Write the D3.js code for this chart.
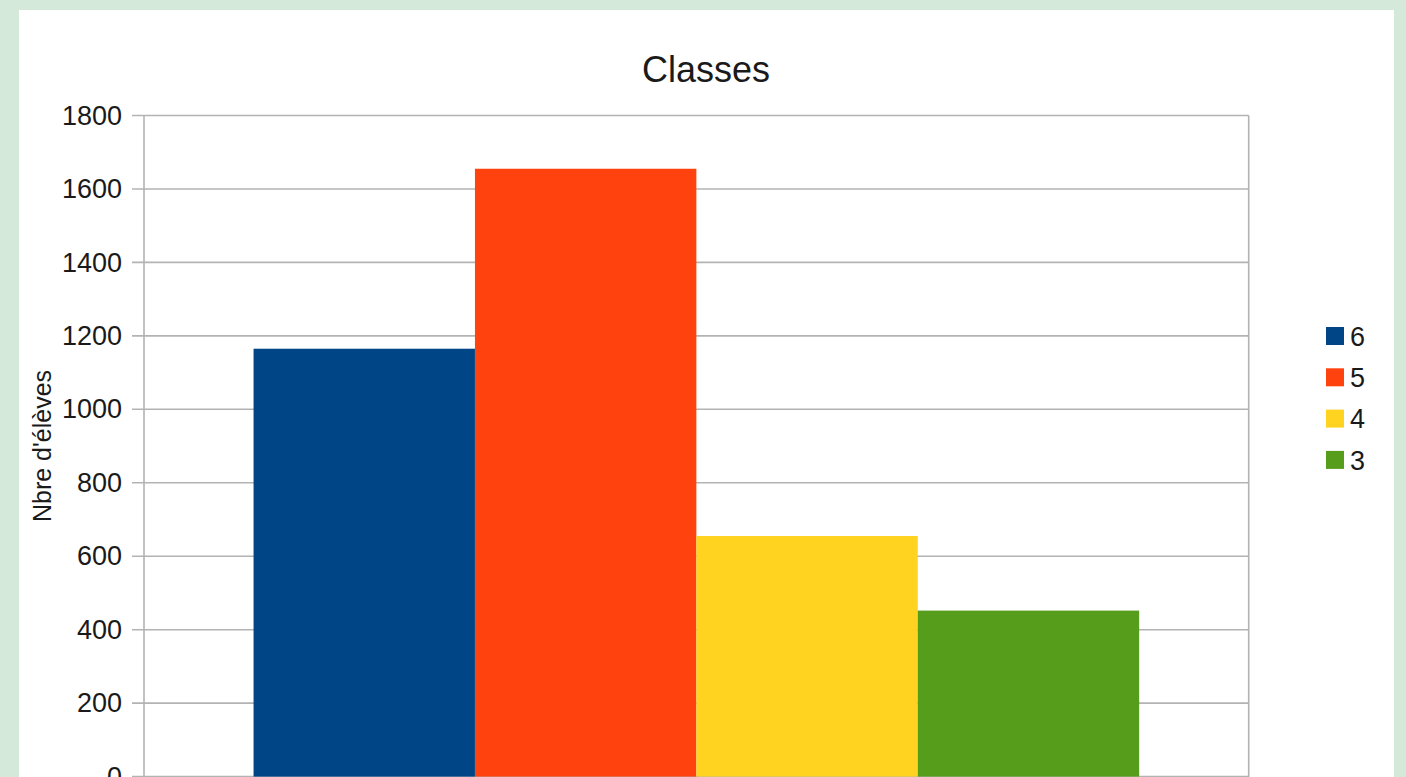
<!DOCTYPE html>
<html>
<head>
<meta charset="utf-8">
<script src="https://cdn.jsdelivr.net/npm/d3@7"></script>
<style>
  html, body { margin: 0; padding: 0; background: #d4e9d9; overflow: hidden; }
  text { font-family: "Liberation Sans", Arial, sans-serif; fill: #1a1a1a; }
</style>
</head>
<body>
<svg id="chart" width="1406" height="777"></svg>
<script>
const title = "Classes";
const yAxisLabel = "Nbre d'élèves";
const categories = [""];
const seriesNames = ["6", "5", "4", "3"];
const seriesValues = [1165, 1655, 655, 452];
const seriesColors = ["#004586", "#ff420e", "#ffd320", "#579d1c"];
const yTicks = [0, 200, 400, 600, 800, 1000, 1200, 1400, 1600, 1800];

const svg = d3.select("#chart");
svg.append("rect").attr("x", 0).attr("y", 0).attr("width", 1406).attr("height", 777).attr("fill", "#d4e9d9");
svg.append("rect").attr("x", 19).attr("y", 10).attr("width", 1375).attr("height", 800).attr("fill", "#ffffff");

const plot = { left: 144, right: 1248.7, top: 115.5, bottom: 776.6 };

const y = d3.scaleLinear().domain([0, 1800]).range([plot.bottom, plot.top]);
const x0 = d3.scaleBand().domain(categories).range([plot.left, plot.right]).paddingInner(0).paddingOuter(0.1237);
const x1 = d3.scaleBand().domain(seriesNames).range([0, x0.bandwidth()]).padding(0);

// gridlines
const grid = svg.append("g");
grid.selectAll("line").data(yTicks).join("line")
  .attr("x1", plot.left - 12).attr("x2", plot.right)
  .attr("y1", d => y(d)).attr("y2", d => y(d))
  .attr("stroke", "#b3b3b3").attr("stroke-width", 1.6);

// plot frame verticals
svg.append("line").attr("x1", plot.left).attr("x2", plot.left).attr("y1", plot.top).attr("y2", plot.bottom + 5)
  .attr("stroke", "#b3b3b3").attr("stroke-width", 1.6);
svg.append("line").attr("x1", plot.right).attr("x2", plot.right).attr("y1", plot.top).attr("y2", plot.bottom + 5)
  .attr("stroke", "#b3b3b3").attr("stroke-width", 1.6);

// y tick labels
const yAxis = d3.axisLeft(y).tickValues(yTicks).tickSize(0).tickPadding(22).tickFormat(d3.format("d"));
const yg = svg.append("g").attr("transform", `translate(${plot.left},0)`).call(yAxis);
yg.select(".domain").remove();
yg.selectAll("text").style("font-size", "27px").style("font-family", "'Liberation Sans', Arial, sans-serif").attr("fill", "#1a1a1a");

// bars
const g = svg.append("g");
categories.forEach(cat => {
  g.selectAll("rect.bar").data(seriesValues).join("rect")
    .attr("class", "bar")
    .attr("x", (d, i) => x0(cat) + x1(seriesNames[i]))
    .attr("width", x1.bandwidth())
    .attr("y", d => y(d))
    .attr("height", d => y(0) - y(d))
    .attr("fill", (d, i) => seriesColors[i]);
});

// title
svg.append("text").attr("x", 706).attr("y", 82).attr("text-anchor", "middle")
  .style("font-size", "36px").text(title);

// y axis label
svg.append("text").attr("transform", "translate(51,446) rotate(-90)").attr("text-anchor", "middle")
  .style("font-size", "25px").text(yAxisLabel);

// legend
const leg = svg.append("g");
seriesNames.forEach((name, i) => {
  const cy = 336 + i * 41.3;
  leg.append("rect").attr("x", 1326).attr("y", cy - 9).attr("width", 18).attr("height", 18).attr("fill", seriesColors[i]);
  leg.append("text").attr("x", 1350).attr("y", cy).attr("dy", "0.36em").style("font-size", "27px").text(name);
});
</script>
</body>
</html>
